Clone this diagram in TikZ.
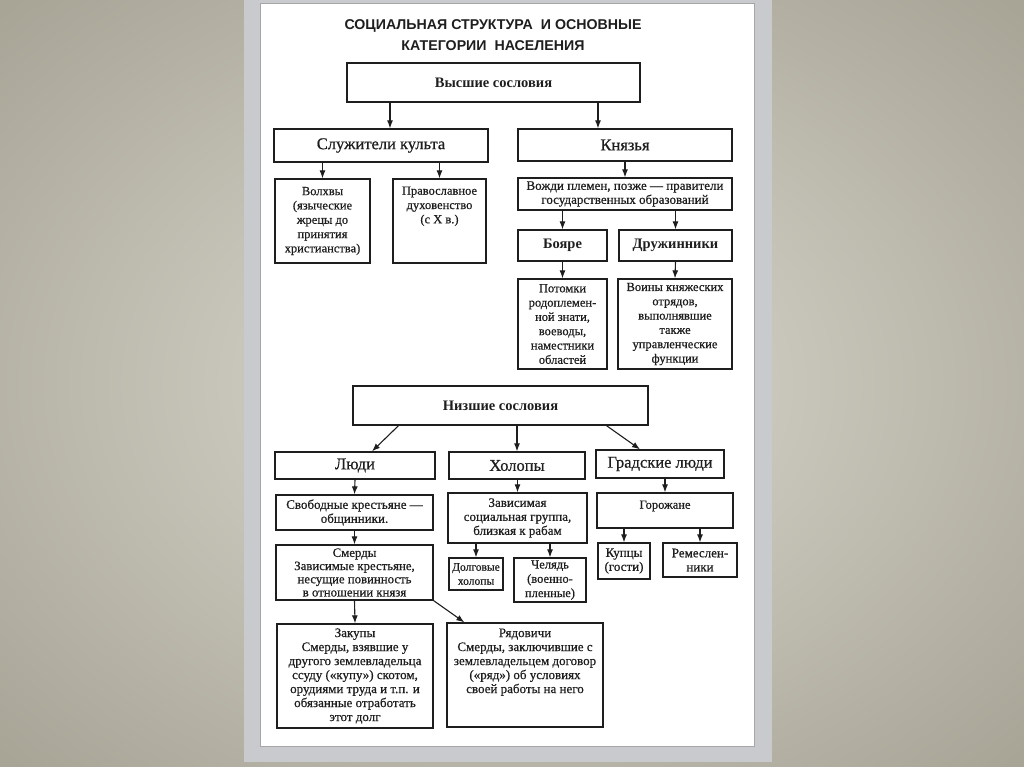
\documentclass[tikz,border=0pt]{standalone}
\usepackage{fontspec}
\setmainfont{Liberation Serif}
\newfontfamily\titlefont{Liberation Sans}
\newfontfamily\scanfont[FakeBold=0.6]{Liberation Serif}
\usetikzlibrary{arrows.meta}
\definecolor{bgin}{HTML}{DCDAD0}
\definecolor{bgout}{HTML}{A8A597}
\definecolor{panel}{HTML}{C9CACE}
\definecolor{ink}{HTML}{1E1E1E}
\newcommand\fsm{\scanfont\fontsize{12.5}{14.3}\selectfont}
\newcommand\fmid{\scanfont\fontsize{13}{14}\selectfont}
\newcommand\fhead{\scanfont\fontsize{16.5}{18}\selectfont}
\newcommand\fbig{\fontsize{14.5}{16}\selectfont\bfseries}
\begin{document}
\begin{tikzpicture}[x=1pt,y=-1pt,
  box/.style={draw=ink,line width=1.3pt,fill=white,inner sep=1pt,align=center,font=\fsm,text=ink},
  txt/.style={inner sep=0pt,align=center,font=\fsm,text=ink},
  arr/.style={draw=ink,line width=1.1pt,-{Latex[length=8pt,width=6pt]}}]
\useasboundingbox (0,0) rectangle (1024,767);
% background
\shade[inner color=bgin,outer color=bgout] (-200,-150) rectangle (1224,917);
\fill[panel] (244,0) rectangle (772,762);
\fill[white,draw=gray!70,line width=0.6pt] (260,3) rectangle (754,746);
% title
\node[font=\titlefont\bfseries\fontsize{14.2}{21}\selectfont,align=center,text=ink] (title) at (493,35)
  {СОЦИАЛЬНАЯ СТРУКТУРА\ \ И ОСНОВНЫЕ\\КАТЕГОРИИ\ \ НАСЕЛЕНИЯ};
% upper estates
\node[box,font=\fbig,minimum width=293pt,minimum height=39pt] (vys) at (493.5,82.5) {Высшие сословия};
\node[box,font=\fhead,minimum width=214pt,minimum height=33pt] (sluz) at (381,145.5) {Служители культа};
\node[box,font=\fhead,minimum width=214pt,minimum height=32pt] (knyaz) at (625,145) {Князья};
\node[box,minimum width=95pt,minimum height=84pt] (volhvy) at (322.5,221) {Волхвы\\(языческие\\жрецы до\\принятия\\христианства)};
\node[box,minimum width=93pt,minimum height=84pt] (prav) at (439.5,221) {};
\node[txt,anchor=north] (pravT) at ([yshift=-8pt]prav.north) {Православное\\духовенство\\(с X в.)};
\node[box,font=\fmid,minimum width=214pt,minimum height=32pt] (vozhdi) at (625,194) {Вожди племен, позже — правители\\государственных образований};
\node[box,font=\fbig,minimum width=89pt,minimum height=31pt] (boyare) at (562.5,245.5) {Бояре};
\node[box,font=\fbig,minimum width=113pt,minimum height=31pt] (druzh) at (675.5,245.5) {Дружинники};
\node[box,minimum width=89pt,minimum height=90pt] (potomki) at (562.5,324) {Потомки\\родоплемен-\\ной знати,\\воеводы,\\наместники\\областей};
\node[box,minimum width=114pt,minimum height=90pt] (voiny) at (675,324) {Воины княжеских\\отрядов,\\выполнявшие\\также\\управленческие\\функции};
% lower estates
\node[box,font=\fbig,minimum width=295pt,minimum height=39pt] (nizsh) at (500.5,405.5) {Низшие сословия};
\node[box,font=\fhead,minimum width=160pt,minimum height=27pt] (lyudi) at (355,465.5) {Люди};
\node[box,font=\fhead,minimum width=136pt,minimum height=27pt] (holopy) at (517,465.5) {Холопы};
\node[box,font=\fhead,minimum width=128pt,minimum height=28pt] (grad) at (660,464) {Градские люди};
\node[box,font=\fmid,minimum width=157pt,minimum height=35pt] (svob) at (354.5,512.5) {Свободные крестьяне —\\общинники.};
\node[box,font=\scanfont\fontsize{12.8}{13.2}\selectfont,minimum width=157pt,minimum height=55pt] (smerdy) at (354.5,572.5) {Смерды\\Зависимые крестьяне,\\несущие повинность\\в отношении князя};
\node[box,font=\fmid,minimum width=139pt,minimum height=50pt] (zavis) at (517.5,518) {Зависимая\\социальная группа,\\близкая к рабам};
\node[box,font=\scanfont\fontsize{11.5}{14}\selectfont,minimum width=54pt,minimum height=32pt] (dolg) at (476,574) {Долговые\\холопы};
\node[box,minimum width=72pt,minimum height=44pt] (chel) at (550,580) {Челядь\\(военно-\\пленные)};
\node[box,minimum width=136pt,minimum height=35pt] (gorozh) at (665,510.5) {};
\node[txt,anchor=north] (gorozhT) at ([yshift=-8pt]gorozh.north) {Горожане};
\node[box,font=\fmid,minimum width=52pt,minimum height=36pt] (kupcy) at (624,561) {Купцы\\(гости)};
\node[box,font=\fmid,minimum width=74pt,minimum height=34pt] (remes) at (700,560) {Ремеслен-\\ники};
\node[box,font=\fmid,minimum width=156pt,minimum height=104pt] (zakupy) at (355,676) {Закупы\\Смерды, взявшие у\\другого землевладельца\\ссуду («купу») скотом,\\орудиями труда и т.п. и\\обязанные отработать\\этот долг};
\node[box,minimum width=156pt,minimum height=104pt] (ryad) at (525,675) {};
\node[txt,font=\fmid,anchor=north] (ryadT) at ([yshift=-6pt]ryad.north) {Рядовичи\\Смерды, заключившие с\\землевладельцем договор\\(«ряд») об условиях\\своей работы на него};
% connectors
\draw[arr] ([xshift=9pt]sluz.north |- vys.south) -- ([xshift=9pt]sluz.north);
\draw[arr] ([xshift=-27pt]knyaz.north |- vys.south) -- ([xshift=-27pt]knyaz.north);
\draw[arr] (volhvy.north |- sluz.south) -- (volhvy.north);
\draw[arr] (prav.north |- sluz.south) -- (prav.north);
\draw[arr] (knyaz.south) -- (vozhdi.north);
\draw[arr] (boyare.north |- vozhdi.south) -- (boyare.north);
\draw[arr] (druzh.north |- vozhdi.south) -- (druzh.north);
\draw[arr] (boyare.south) -- (potomki.north);
\draw[arr] (druzh.south) -- (voiny.north);
\draw[arr] ([xshift=-102pt]nizsh.south) -- ([xshift=17pt]lyudi.north);
\draw[arr] (holopy.north |- nizsh.south) -- (holopy.north);
\draw[arr] ([xshift=106pt]nizsh.south) -- ([xshift=-20pt]grad.north);
\draw[arr] (lyudi.south) -- (svob.north);
\draw[arr] (zavis.north |- holopy.south) -- (zavis.north);
\draw[arr] (gorozh.north |- grad.south) -- (gorozh.north);
\draw[arr] (svob.south) -- (smerdy.north);
\draw[arr] (smerdy.south) -- (zakupy.north);
\draw[arr] (smerdy.south east) -- ([xshift=18pt]ryad.north west);
\draw[arr] (dolg.north |- zavis.south) -- (dolg.north);
\draw[arr] (chel.north |- zavis.south) -- (chel.north);
\draw[arr] (kupcy.north |- gorozh.south) -- (kupcy.north);
\draw[arr] (remes.north |- gorozh.south) -- (remes.north);
\end{tikzpicture}
\end{document}
